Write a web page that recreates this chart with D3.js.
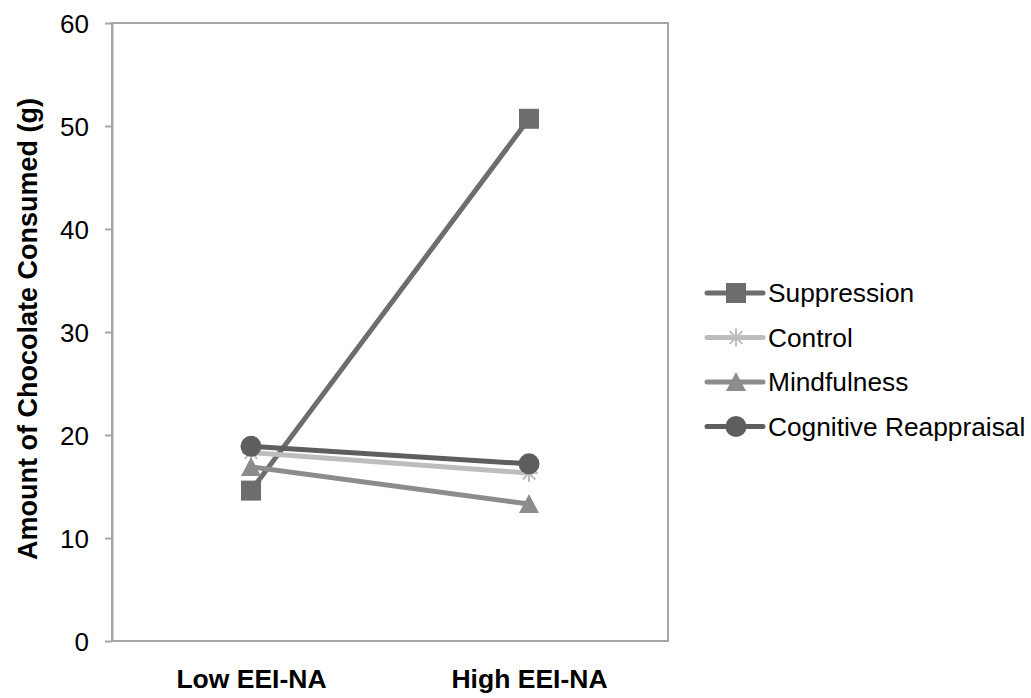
<!DOCTYPE html>
<html>
<head>
    <meta charset="utf-8">
    <title>Chocolate Consumed</title>
    <script src="https://d3js.org/d3.v7.min.js"></script>
    <style type="text/css">
        body {
            margin: 0;
            background: white;
            font-family: 'Liberation Sans', Arial, Helvetica, sans-serif;
        }

        .axis text {
            font-family: 'Liberation Sans', Arial, Helvetica, sans-serif;
            font-size: 26px;
            fill: #000;
        }

        .axis line,
        .axis path {
            stroke: #a6a6a6;
            stroke-width: 2;
        }
    </style>
</head>

<body>
    <script type="text/javascript">
        // data
        const categories = ["Low EEI-NA", "High EEI-NA"];
        const seriesNames = ["Suppression", "Control", "Mindfulness", "Cognitive Reappraisal"];
        const suppression = [14.6, 50.7];
        const control = [18.3, 16.3];
        const mindfulness = [16.9, 13.3];
        const cognitive = [18.9, 17.2];
        const yTicks = [0, 10, 20, 30, 40, 50, 60];

        // svg setup
        const svgW = 1031, svgH = 698;
        const plot = { left: 112, top: 23, right: 668, bottom: 641 };

        const svg = d3.select("body")
            .append("svg")
            .attr("width", svgW)
            .attr("height", svgH);

        // scales
        const xScale = d3.scalePoint()
            .domain(categories)
            .range([plot.left, plot.right])
            .padding(0.5);
        const yScale = d3.scaleLinear()
            .domain([0, 60])
            .range([plot.bottom, plot.top]);

        // series look (grey shades like the original)
        const series = [
            { name: seriesNames[0], values: suppression, color: "#6d6d6d", marker: "square" },
            { name: seriesNames[1], values: control, color: "#bdbdbd", marker: "asterisk" },
            { name: seriesNames[2], values: mindfulness, color: "#8c8c8c", marker: "triangle" },
            { name: seriesNames[3], values: cognitive, color: "#5e5e5e", marker: "circle" }
        ];

        // plot frame
        svg.append("rect")
            .attr("x", plot.left)
            .attr("y", plot.top)
            .attr("width", plot.right - plot.left)
            .attr("height", plot.bottom - plot.top)
            .attr("fill", "none")
            .attr("stroke", "#a6a6a6")
            .attr("stroke-width", 2);

        // y axis
        const yAxisG = svg.append("g")
            .attr("class", "axis")
            .attr("transform", `translate(${plot.left},0)`)
            .call(d3.axisLeft(yScale).tickValues(yTicks).tickSize(7).tickSizeOuter(0).tickPadding(16));
        yAxisG.selectAll("text").attr("dy", "0.38em");

        // x axis labels
        const xAxisG = svg.append("g")
            .attr("class", "axis")
            .attr("transform", `translate(0,${plot.bottom})`)
            .call(d3.axisBottom(xScale).tickSize(0).tickPadding(28));
        xAxisG.select(".domain").remove();
        xAxisG.selectAll("text")
            .style("font-weight", "bold")
            .style("font-size", "26.5px")
            .attr("dy", "0.71em");

        // y axis title
        svg.append("text")
            .attr("transform", `translate(37,${(plot.top + plot.bottom) / 2 - 3}) rotate(-90)`)
            .attr("text-anchor", "middle")
            .style("font-size", "27px")
            .style("font-weight", "bold")
            .text("Amount of Chocolate Consumed (g)");

        // marker drawing helper
        const drawMarker = (g, type, x, y, color) => {
            if (type === "square") {
                g.append("rect")
                    .attr("x", x - 10).attr("y", y - 10)
                    .attr("width", 20).attr("height", 20)
                    .attr("fill", color);
            } else if (type === "circle") {
                g.append("circle")
                    .attr("cx", x).attr("cy", y).attr("r", 10.5)
                    .attr("fill", color);
            } else if (type === "triangle") {
                g.append("path")
                    .attr("d", `M${x},${y - 10}L${x + 10},${y + 9}L${x - 10},${y + 9}Z`)
                    .attr("fill", color);
            } else if (type === "asterisk") {
                [0, 45, 90, 135].forEach(a => {
                    const r = 9, t = a * Math.PI / 180;
                    g.append("line")
                        .attr("x1", x - r * Math.cos(t)).attr("y1", y - r * Math.sin(t))
                        .attr("x2", x + r * Math.cos(t)).attr("y2", y + r * Math.sin(t))
                        .attr("stroke", color)
                        .attr("stroke-width", 2);
                });
            }
        };

        // lines + markers
        const makeLine = d3.line()
            .x((d, i) => xScale(categories[i]))
            .y(d => yScale(d));

        series.forEach(s => {
            const g = svg.append("g");
            g.append("path")
                .attr("d", makeLine(s.values))
                .attr("fill", "none")
                .attr("stroke", s.color)
                .attr("stroke-width", 5)
                .attr("stroke-linecap", "round");
            s.values.forEach((v, i) => drawMarker(g, s.marker, xScale(categories[i]), yScale(v), s.color));
        });

        // legend
        const legend = svg.append("g").attr("transform", "translate(707,293)");
        series.forEach((s, i) => {
            const row = legend.append("g").attr("transform", `translate(0,${i * 44.5})`);
            row.append("line")
                .attr("x1", 0).attr("x2", 56)
                .attr("stroke", s.color)
                .attr("stroke-width", 5)
                .attr("stroke-linecap", "round");
            drawMarker(row, s.marker, 29, 0, s.color);
            row.append("text")
                .attr("x", 61)
                .attr("dy", "0.36em")
                .style("font-size", "26.3px")
                .text(s.name);
        });
    </script>
</body>
</html>
